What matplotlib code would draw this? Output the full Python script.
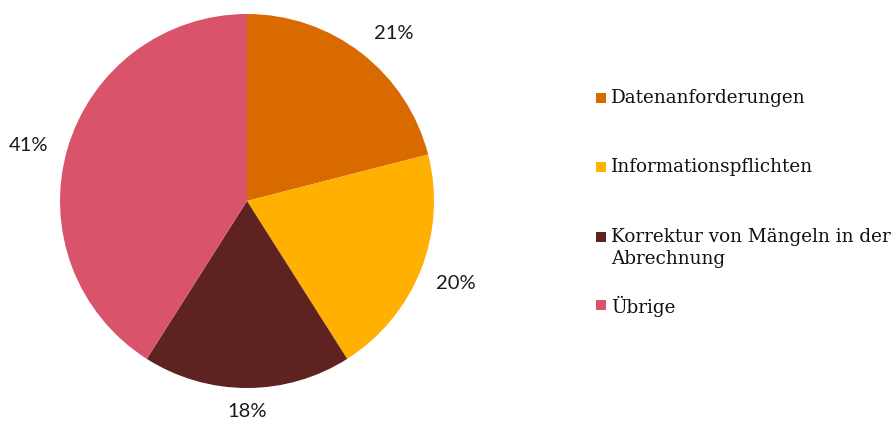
import matplotlib
matplotlib.use("Agg")
import matplotlib.pyplot as plt
from matplotlib.patches import Rectangle

# data
categories = ["Datenanforderungen", "Informationspflichten",
              "Korrektur von Mängeln in der\nAbrechnung", "Übrige"]
shares = [21, 20, 18, 41]
colors = ["#D96A00", "#FFB000", "#5E2320", "#D9546B"]

W, H = 895, 421
fig = plt.figure(figsize=(W / 100, H / 100), dpi=100)

# pie axes: square box in pixels
ax = fig.add_axes([60 / W, (H - 388) / H, 374 / W, 374 / H])
wedges, texts, autotexts = ax.pie(
    shares, colors=colors, startangle=90, counterclock=False,
    autopct=lambda p: f"{p:.0f}%", pctdistance=1.2,
    wedgeprops=dict(linewidth=0),
    textprops=dict(fontsize=14.5, family="Lato", color="#1a1a1a"))
ax.set_xlim(-1, 1)
ax.set_ylim(-1, 1)
ax.set_aspect("equal")
ax.axis("off")

# small nudges of the percent labels (data units of the pie)
nudges = [(0.05, -0.05), (0.0, 0.0), (0.0, 0.075), (-0.015, -0.04)]
for t, (dx, dy) in zip(autotexts, nudges):
    x, y = t.get_position()
    t.set_position((x + dx, y + dy))

# legend drawn by hand to match the uneven spacing
first_line_y = [98, 167, 237, 305]
for lab, col, py in zip(categories, colors, first_line_y):
    fig.add_artist(Rectangle((596 / W, (H - py - 5) / H), 10 / W, 10 / H,
                             transform=fig.transFigure, color=col, lw=0))
    # top of first line about 9 px above its centre
    fig.text(611 / W, (H - py + 9) / H, lab, ha="left", va="top",
             fontsize=13.2, family="DejaVu Serif", color="#111111", linespacing=1.25)

fig.savefig("out.png", dpi=100)
